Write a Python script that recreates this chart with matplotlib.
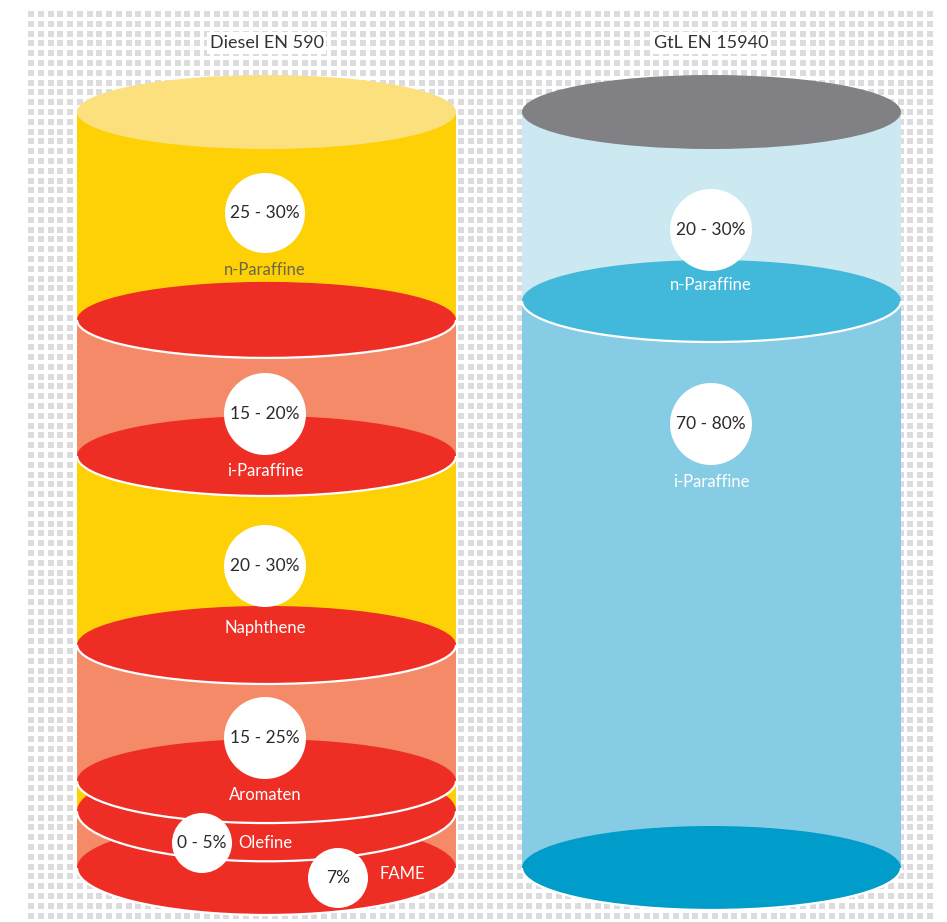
import numpy as np
import matplotlib
matplotlib.use("Agg")
import matplotlib.pyplot as plt
from matplotlib.patches import Rectangle, Ellipse, Arc, Circle

plt.rcParams['font.family'] = ['Lato', 'DejaVu Sans']

# --- data ---------------------------------------------------------------
titles = ["Diesel EN 590", "GtL EN 15940"]

diesel_names = ["n-Paraffine", "i-Paraffine", "Naphthene", "Aromaten", "Olefine", "FAME"]
diesel_ranges = ["25 - 30%", "15 - 20%", "20 - 30%", "15 - 25%", "0 - 5%", "7%"]
diesel_shares = [27.5, 18, 25, 18, 4, 7.5]   # share of the cylinder height (%)

gtl_names = ["n-Paraffine", "i-Paraffine"]
gtl_ranges = ["20 - 30%", "70 - 80%"]
gtl_shares = [25, 75]

# --- colours ------------------------------------------------------------
YELLOW = "#FDD105"
YELLOW_CAP = "#FDE07E"
SALMON = "#F48A68"
RED = "#EE2E24"
GREY_CAP = "#808085"
BLUE_LIGHT = "#CCE9F1"
BLUE_MID = "#87CCE5"
BLUE_RING = "#42B8DA"
BLUE_DARK = "#009CCA"
SQUARE = "#DCDCDE"
TXT = "#2a2a2a"

diesel_body = [YELLOW, SALMON, YELLOW, SALMON, YELLOW, SALMON]
gtl_body = [BLUE_LIGHT, BLUE_MID]

# --- layout (pixel coordinates) -----------------------------------------
W, H = 947, 922
Y_TOP, Y_BOT = 112, 868
RX = 189.5

diesel_cx, gtl_cx = 266.5, 711.5
# half-height of every ellipse, top cap first, bottom last (perspective)
diesel_ry = [37, 38, 40, 39, 42, 50, 47]
gtl_ry = [37, 41, 42]
# circle x, circle y, radius, label x, label y
diesel_marks = [(265, 213, 40, 265, 270), (265, 414, 41, 265, 471),
                (265, 566, 41, 265, 628), (265, 738, 41, 265, 795),
                (202, 843, 30, 265, 843), (338, 878, 30, 402, 874)]
diesel_label_col = ["#6d6748", "white", "white", "white", "white", "white"]
gtl_marks = [(711, 230, 41, 711, 285), (711, 424, 41, 711, 482)]
gtl_label_col = ["white", "white"]

fig = plt.figure(figsize=(W / 100, H / 100), dpi=100)
ax = fig.add_axes([0, 0, 1, 1])
ax.set_xlim(0, W)
ax.set_ylim(H, 0)
ax.axis("off")

# dotted background
gx = 28 + 9.77 * np.arange(93) + 3
gy = 11 + 9.8 * np.arange(94) + 3
GX, GY = np.meshgrid(gx, gy)
ax.scatter(GX.ravel(), GY.ravel(), marker="s", s=18, color=SQUARE,
           linewidths=0, zorder=0)


def cylinder(cx, shares, bodies, top_cap, ring, bottom, ry, names, ranges,
             marks, label_cols):
    shares = np.asarray(shares, dtype=float)
    edges = Y_TOP + np.concatenate([[0], np.cumsum(shares)]) / shares.sum() * (Y_BOT - Y_TOP)
    z = 2
    for i, col in enumerate(bodies):
        ax.add_patch(Rectangle((cx - RX, edges[i]), 2 * RX, edges[i + 1] - edges[i],
                               facecolor=col, edgecolor="none", zorder=z))
    # bottom, then inner rings from the bottom upwards
    n = len(edges)
    for k in range(n - 1, 0, -1):
        z += 1
        col = bottom if k == n - 1 else ring
        ax.add_patch(Ellipse((cx, edges[k]), 2 * RX, 2 * ry[k], facecolor=col,
                             edgecolor="none", zorder=z))
        ax.add_patch(Arc((cx, edges[k]), 2 * RX, 2 * ry[k], theta1=0, theta2=180,
                         color="white", lw=1.6, zorder=z))
    z += 1
    ax.add_patch(Ellipse((cx, edges[0]), 2 * RX, 2 * ry[0], facecolor=top_cap,
                         edgecolor="none", zorder=z))
    z += 1
    for name, rng, (px, py, r, lx, ly), lc in zip(names, ranges, marks, label_cols):
        ax.add_patch(Circle((px, py), r, facecolor="white", edgecolor="none", zorder=z))
        ax.text(px, py, rng, ha="center", va="center", fontsize=12.5,
                color=TXT, zorder=z + 1)
        ax.text(lx, ly, name, ha="center", va="center", fontsize=12,
                color=lc, zorder=z + 1)


cylinder(diesel_cx, diesel_shares, diesel_body, YELLOW_CAP, RED, RED, diesel_ry,
         diesel_names, diesel_ranges, diesel_marks, diesel_label_col)
cylinder(gtl_cx, gtl_shares, gtl_body, GREY_CAP, BLUE_RING, BLUE_DARK, gtl_ry,
         gtl_names, gtl_ranges, gtl_marks, gtl_label_col)

for cx, t in zip([diesel_cx, gtl_cx], titles):
    ax.text(cx, 43, t, ha="center", va="center", fontsize=13, color="#333333",
            bbox=dict(facecolor="white", edgecolor="none", pad=2), zorder=5)

fig.savefig("out.png", dpi=100)
